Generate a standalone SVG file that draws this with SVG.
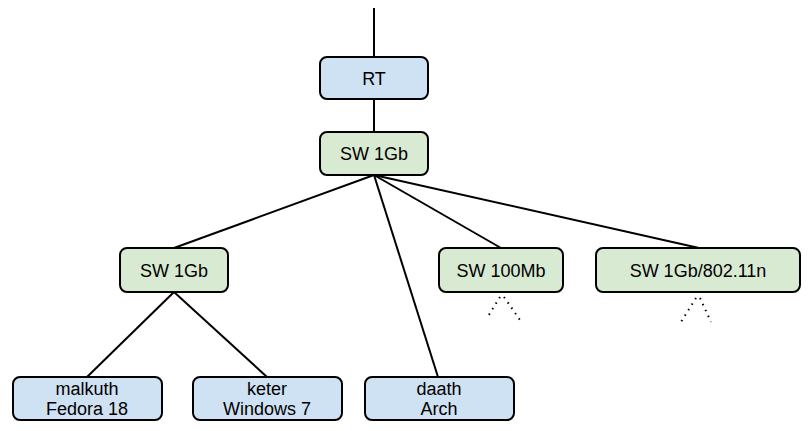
<svg xmlns="http://www.w3.org/2000/svg" width="812" height="431" viewBox="0 0 812 431">
<style>
.b{fill:#cfe2f3;stroke:#000;stroke-width:2}
.g{fill:#d9ead3;stroke:#000;stroke-width:2}
.l{stroke:#000;stroke-width:2;fill:none}
.d{stroke:#000;stroke-width:2;fill:none;stroke-dasharray:1.5 5}
text{font-family:"Liberation Sans",Arial,sans-serif;font-size:18px;text-anchor:middle;fill:#000}
</style>
<rect width="812" height="431" fill="#fff"/>
<g id="connectors">
<line class="l" x1="374" y1="8" x2="374" y2="57"/>
<line class="l" x1="374" y1="99" x2="374" y2="132"/>
<line class="l" x1="374" y1="175" x2="174" y2="248"/>
<line class="l" x1="374" y1="175" x2="438" y2="377"/>
<line class="l" x1="374" y1="175" x2="501" y2="248"/>
<line class="l" x1="374" y1="175" x2="699" y2="248"/>
<line class="l" x1="174" y1="292" x2="87" y2="377"/>
<line class="l" x1="174" y1="292" x2="267" y2="377"/>
<line class="d" x1="500" y1="297" x2="487" y2="318"/>
<line class="d" x1="504" y1="297" x2="520" y2="320"/>
<line class="d" x1="696" y1="298" x2="681" y2="322"/>
<line class="d" x1="700" y1="298" x2="711" y2="322"/>
</g>
<g id="rt"><rect class="b" x="320" y="57" width="108" height="42" rx="7"/><text x="374" y="85">RT</text></g>
<g id="sw-top"><rect class="g" x="320" y="132" width="108" height="43" rx="7"/><text x="374" y="160">SW 1Gb</text></g>
<g id="sw-left"><rect class="g" x="120" y="248" width="108" height="44" rx="7"/><text x="174" y="277">SW 1Gb</text></g>
<g id="sw-100"><rect class="g" x="439" y="248" width="124" height="44" rx="7"/><text x="501" y="277">SW 100Mb</text></g>
<g id="sw-wifi"><rect class="g" x="596" y="248" width="204" height="44" rx="7"/><text x="698" y="277">SW 1Gb/802.11n</text></g>
<g id="malkuth"><rect class="b" x="13" y="377" width="149" height="43" rx="7"/><text x="87" y="395">malkuth</text><text x="87" y="415">Fedora 18</text></g>
<g id="keter"><rect class="b" x="193" y="377" width="149" height="43" rx="7"/><text x="267" y="395">keter</text><text x="267" y="415">Windows 7</text></g>
<g id="daath"><rect class="b" x="365" y="377" width="149" height="43" rx="7"/><text x="439" y="395">daath</text><text x="439" y="415">Arch</text></g>
</svg>
